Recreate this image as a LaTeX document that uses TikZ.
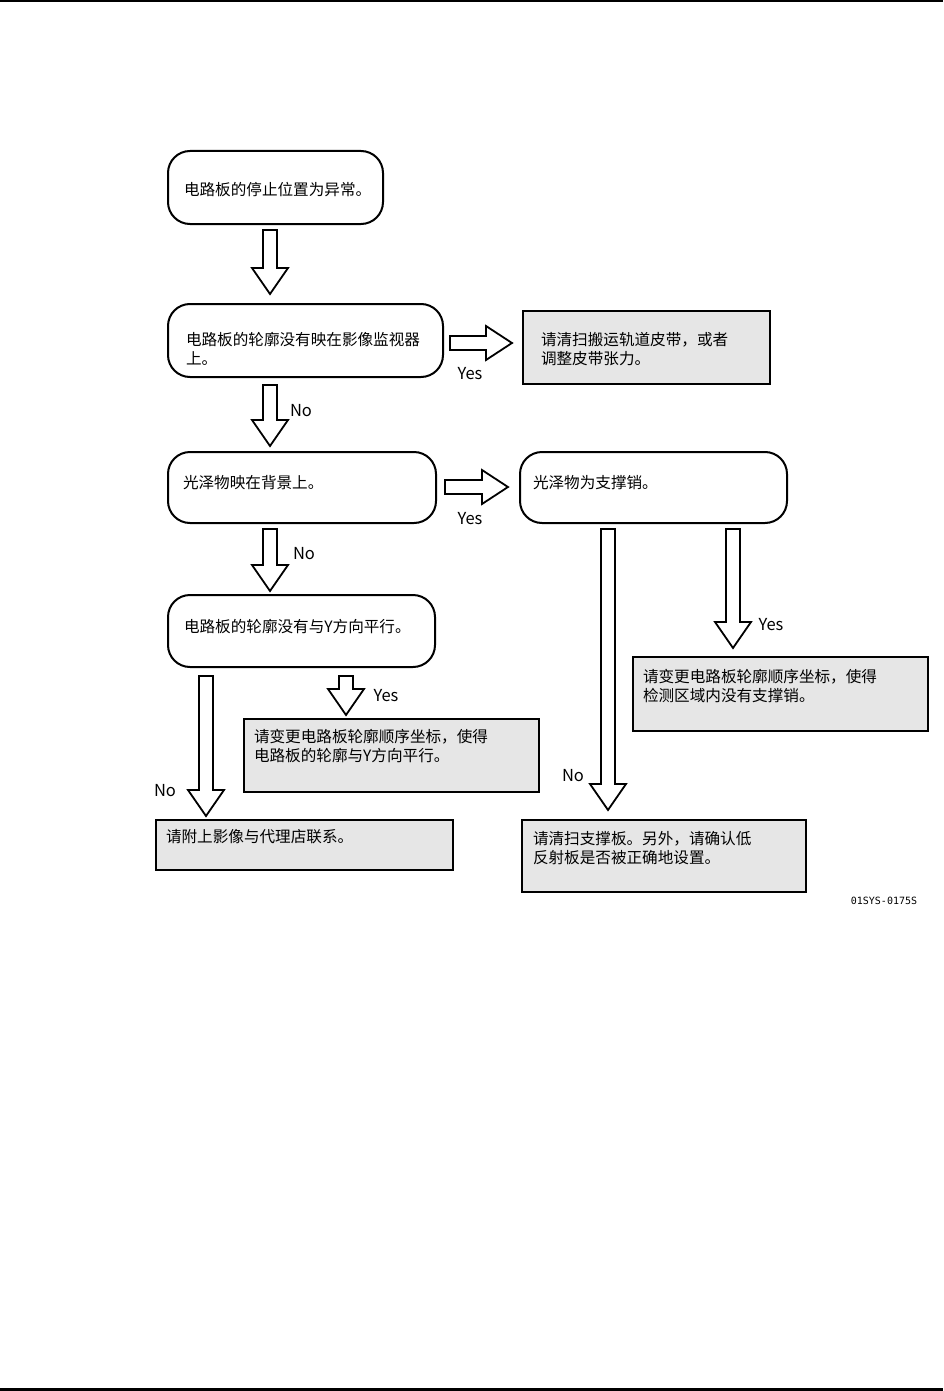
\documentclass[tikz,border=0pt]{standalone}
\usepackage{fontspec}
\setmainfont{Noto Sans CJK SC}
\newfontfamily\codefont{DejaVu Sans Mono}
\usetikzlibrary{calc}

\definecolor{boxgray}{RGB}{230,230,230}

% 空心箭头(向下): 起点框, 终点框, x, 上间隙, 下间隙
\newcommand{\bigdown}[5]{%
  \draw[blockarrow] let \p1=(#3,0 |- #1.south), \p2=(#3,0 |- #2.north) in
    (\x1-7pt,\y1-#4pt) -- (\x1+7pt,\y1-#4pt) -- (\x1+7pt,\y2+#5pt+26pt)
    -- (\x1+18pt,\y2+#5pt+26pt) -- (\x1,\y2+#5pt) -- (\x1-18pt,\y2+#5pt+26pt)
    -- (\x1-7pt,\y2+#5pt+26pt) -- cycle;}
% 空心箭头(向右): 起点框, 终点框, y, 左间隙, 右间隙
\newcommand{\bigright}[5]{%
  \draw[blockarrow] let \p1=(#1.east |- 0,#3), \p2=(#2.west |- 0,#3) in
    (\x1+#4pt,\y1+7pt) -- (\x2-#5pt-26pt,\y1+7pt) -- (\x2-#5pt-26pt,\y1+17pt)
    -- (\x2-#5pt,\y1) -- (\x2-#5pt-26pt,\y1-17pt) -- (\x2-#5pt-26pt,\y1-7pt)
    -- (\x1+#4pt,\y1-7pt) -- cycle;}

\tikzset{
  box/.style={draw, line width=2pt, anchor=north west, inner ysep=0pt,
    align=left, font=\fontsize{15.6pt}{19.5pt}\selectfont},
  rbox/.style={box, rounded corners=22pt},
  gbox/.style={box, fill=boxgray},
  blockarrow/.style={draw, line width=1.8pt, fill=white, line join=miter},
  lbl/.style={font=\fontsize{16.5pt}{18pt}\selectfont, inner sep=0pt}
}

\begin{document}
\begin{tikzpicture}[x=1pt,y=-1pt]
  \useasboundingbox (0,0) rectangle (943,1391);

  % 页眉页脚线
  \fill (0,0) rectangle (943,2.5);
  \fill (0,1388) rectangle (943,1391);

  % 判断框 (圆角)
  \node[rbox, inner xsep=16pt, text width=183pt, text height=45pt, text depth=28pt]
    (stop) at (167,150) {电路板的停止位置为异常。};
  \node[rbox, inner xsep=18pt, text width=239pt, text height=41pt, text depth=32pt]
    (outline) at (167,303) {电路板的轮廓没有映在影像监视器\\上。};
  \node[rbox, inner xsep=15pt, text width=238pt, text height=36pt, text depth=35pt]
    (gloss) at (167,451) {光泽物映在背景上。};
  \node[rbox, inner xsep=13pt, text width=241pt, text height=36pt, text depth=35pt]
    (pin) at (519,451) {光泽物为支撑销。};
  \node[rbox, inner xsep=16pt, text width=235pt, text height=37pt, text depth=35pt]
    (parallel) at (167,594) {电路板的轮廓没有与Y方向平行。};

  % 处理框 (灰色)
  \node[gbox, inner xsep=18pt, text width=211pt, text height=34pt, text depth=39pt]
    (belt) at (522,310) {请清扫搬运轨道皮带，或者\\调整皮带张力。};
  \node[gbox, inner xsep=10pt, text width=275pt, text height=23pt, text depth=50pt]
    (fixY) at (243,718) {请变更电路板轮廓顺序坐标，使得\\电路板的轮廓与Y方向平行。};
  \node[gbox, inner xsep=10pt, text width=277pt, text height=22pt, text depth=28pt]
    (agent) at (155,819) {请附上影像与代理店联系。};
  \node[gbox, inner xsep=10pt, text width=275pt, text height=25pt, text depth=49pt]
    (fixPin) at (632,656) {请变更电路板轮廓顺序坐标，使得\\检测区域内没有支撑销。};
  \node[gbox, inner xsep=11pt, text width=262pt, text height=24pt, text depth=48pt]
    (plate) at (521,819) {请清扫支撑板。另外，请确认低\\反射板是否被正确地设置。};

  % 箭头
  \bigdown{stop}{outline}{270}{5}{9}
  \bigdown{outline}{gloss}{270}{7}{5}
  \bigdown{gloss}{parallel}{270}{5}{3}
  \bigdown{parallel}{agent}{206}{8}{3}
  \bigdown{parallel}{fixY}{346}{8}{3}
  \bigdown{pin}{plate}{608}{5}{9}
  \bigdown{pin}{fixPin}{733}{5}{8}
  \bigright{outline}{belt}{343}{6}{10}
  \bigright{gloss}{pin}{487}{8}{11}

  % 标签
  \node[lbl] (yes1) at (470,374) {Yes};
  \node[lbl] (yes2) at (470,519) {Yes};
  \node[lbl] (yes3) at (386,696) {Yes};
  \node[lbl] (yes4) at (771,625) {Yes};
  \node[lbl] (no1) at (301,411) {No};
  \node[lbl] (no2) at (304,554) {No};
  \node[lbl] (no3) at (165,791) {No};
  \node[lbl] (no4) at (573,776) {No};
  \node[font=\codefont\fontsize{10pt}{12pt}\selectfont, inner sep=0pt]
    (code) at (884,901) {01SYS-0175S};
\end{tikzpicture}
\end{document}
